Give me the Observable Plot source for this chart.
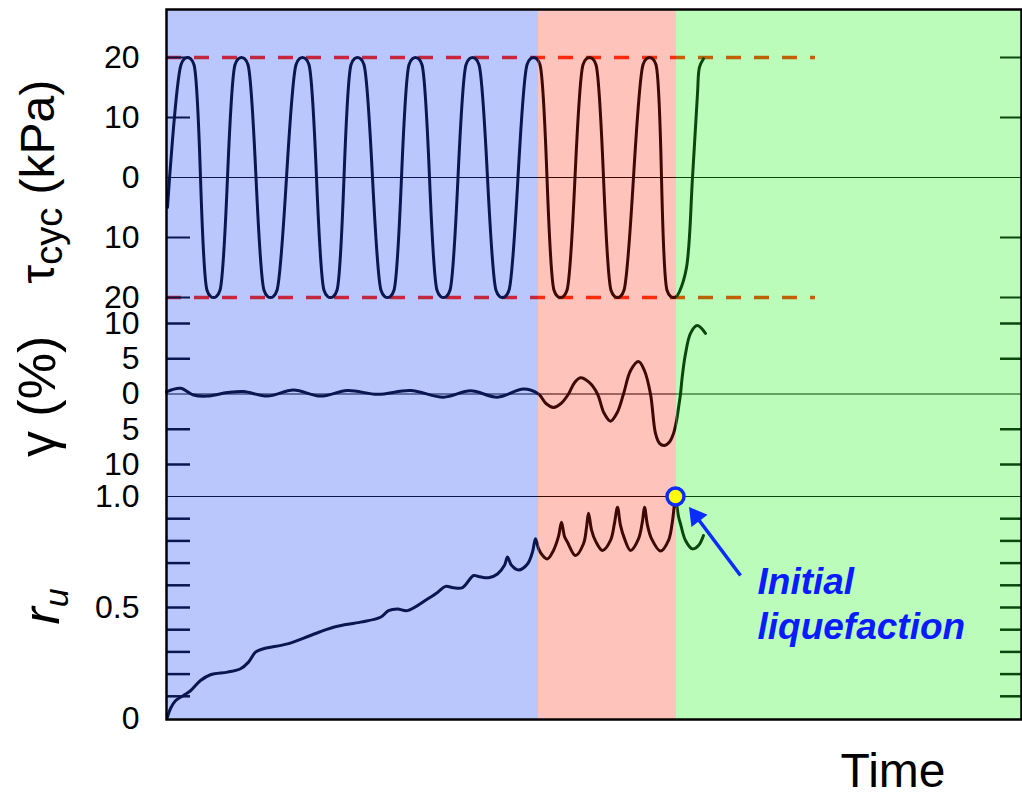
<!DOCTYPE html>
<html><head><meta charset="utf-8">
<script src="https://cdn.jsdelivr.net/npm/d3@7"></script>
<script src="https://cdn.jsdelivr.net/npm/@observablehq/plot@0.6"></script>
<style>
html,body{margin:0;padding:0;background:#fff;}
#chart{position:relative;width:1022px;height:796px;overflow:hidden;background:#fff;}
#chart svg{position:absolute;left:0;top:0;}
</style></head><body><div id="chart"></div>
<script>
// ---- regions (time units) ----
const regionNames = ["pre", "build-up", "post"];
const regionStart = [0, 37.2, 51.0];
const regionEnd = [37.2, 51.0, 85.5];
const regionFill = ["#b9c7fd", "#fec3ba", "#bbfcbb"];
const curveColor = ["#08174f", "#3d0905", "#0a470c"];
const dashColor = ["#c3283d", "#ff2c0c", "#bd6200"];
const tickLeftColor = "#08174f";
const tickRightColor = "#0a470c";

// ---- tau_cyc (kPa) vs time ----
const tauSeries = [
  [0.1,-5],
  [1.45,18.8],[1.8,19.8],[2.1,20],[2.4,19.8],[2.75,18.8],
  [4.05,-18.8],[4.4,-19.8],[4.7,-20],[5.0,-19.8],[5.35,-18.8],
  [6.85,18.8],[7.2,19.8],[7.5,20],[7.8,19.8],[8.15,18.8],
  [9.75,-18.8],[10.1,-19.8],[10.4,-20],[10.7,-19.8],[11.05,-18.8],
  [12.95,18.8],[13.3,19.8],[13.6,20],[13.9,19.8],[14.25,18.8],
  [15.75,-18.8],[16.1,-19.8],[16.4,-20],[16.7,-19.8],[17.05,-18.8],
  [18.45,18.8],[18.8,19.8],[19.1,20],[19.4,19.8],[19.75,18.8],
  [21.45,-18.8],[21.8,-19.8],[22.1,-20],[22.4,-19.8],[22.75,-18.8],
  [24.25,18.8],[24.6,19.8],[24.9,20],[25.2,19.8],[25.55,18.8],
  [27.05,-18.8],[27.4,-19.8],[27.7,-20],[28.0,-19.8],[28.35,-18.8],
  [29.95,18.8],[30.3,19.8],[30.6,20],[30.9,19.8],[31.25,18.8],
  [32.95,-18.8],[33.3,-19.8],[33.6,-20],[33.9,-19.8],[34.25,-18.8],
  [36.05,18.8],[36.4,19.8],[36.7,20],[37.0,19.8],[37.35,18.8],
  [38.75,-18.8],[39.1,-19.8],[39.4,-20],[39.7,-19.8],[40.05,-18.8],
  [41.65,18.8],[42.0,19.8],[42.3,20],[42.6,19.8],[42.95,18.8],
  [44.45,-18.8],[44.8,-19.8],[45.1,-20],[45.4,-19.8],[45.75,-18.8],
  [47.65,18.8],[48.0,19.8],[48.3,20],[48.6,19.8],[48.95,18.8],
  [50.05,-18.8],[50.4,-19.8],[50.7,-20],[51.0,-19.8],[51.3,-19.0],
  [52.0,-15],[52.6,0],[53.1,14],[53.3,18.4],[53.7,19.8]
];
const tauLabelTicks = [20, 10, 0, -10, -20];
const tauMinorTicks = [20, 10, -10, -20];
const dashLevels = [20, -20];
const dashStart = 0;
const dashEnd = 64.9;

// ---- gamma (%) vs time ----
const gammaSeries = [
  [0.0,0.3],[1.4,0.8],[2.7,-0.15],[4.1,-0.3],[6.1,0.2],[7.7,0.35],[10.1,-0.3],
  [12.7,0.55],[15.4,-0.3],[18.1,0.5],[21.1,-0.05],[24.4,0.5],[27.7,-0.45],
  [30.4,0.45],[33.1,-0.45],[35.7,0.7],[37.2,0.0],
  [37.95,-1.35],[38.7,-1.9],[39.45,-1.35],[40.2,0],
  [40.8,1.6],[41.4,2.3],[42.3,1.6],[43.1,0],
  [43.75,-2.7],[44.4,-3.85],[45.05,-2.7],[45.7,0],
  [46.4,3.3],[47.2,4.6],[47.8,3.3],[48.4,0],
  [48.9,-5.6],[49.3,-7.0],[49.8,-7.3],[50.3,-6.8],[50.7,-5.6],[51.0,-3.8],[51.25,-1.5],[51.4,0],
  [51.57,2.4],[51.9,5.7],[52.4,8.6],[53.07,9.7],[53.9,8.6]
];
const gammaLabelTicks = [10, 5, 0, -5, -10];
const gammaMinorTicks = [10, 5, -5, -10];

// ---- r_u vs time ----
const ruSeries = [
  [0.1,0.006],[0.4,0.045],[0.9,0.08],[1.7,0.104],[2.4,0.125],[3.4,0.171],[4.4,0.197],[6.1,0.209],
  [7.4,0.224],[8.2,0.254],[8.9,0.299],[9.7,0.314],[12.1,0.336],[14.4,0.374],[16.7,0.411],
  [19.4,0.434],[21.4,0.456],[22.2,0.486],[23.1,0.493],[24.1,0.486],[26.1,0.538],[27.1,0.568],
  [27.9,0.595],[28.7,0.589],[29.6,0.59],[30.7,0.644],[31.2,0.64],[32.2,0.634],[33.1,0.651],
  [33.8,0.69],[34.1,0.727],[34.5,0.69],[35.2,0.669],[36.1,0.696],[36.6,0.75],[36.9,0.81],
  [37.2,0.765],[37.6,0.735],[38.1,0.719],[38.7,0.757],[39.2,0.82],[39.5,0.884],[39.8,0.82],
  [40.1,0.794],[40.9,0.734],[41.7,0.787],[42.0,0.86],[42.2,0.925],[42.5,0.85],[42.9,0.80],
  [43.6,0.757],[44.4,0.802],[44.8,0.88],[45.1,0.952],[45.4,0.87],[45.8,0.81],[46.4,0.757],
  [47.2,0.809],[47.6,0.89],[47.8,0.952],[48.1,0.87],[48.5,0.81],[49.4,0.754],[50.2,0.802],
  [50.6,0.89],[50.9,0.99],[51.2,0.91],[51.4,0.877],[51.9,0.802],[52.6,0.764],[53.2,0.779],[53.7,0.824]
];
const ruLabelTicks = [1.0, 0.5, 0];
const ruLabelText = ["1.0", "0.5", "0"];
const ruMinorTicks = [0.9, 0.8, 0.7, 0.6, 0.5, 0.4, 0.3, 0.2, 0.1];

// ---- annotation ----
const liqPoint = [50.9, 1.0];
const arrowTail = [57.4, 0.644];
const arrowHead = [52.95, 0.911];
const annotPos = [59.1, 0.36];
const annotText = "Initial\nliquefaction";

// ---- layout ----
const W = 1022, H = 796;
const font = "'Liberation Sans', Arial, Helvetica, sans-serif";
const ns = "http://www.w3.org/2000/svg";
const idx = regionNames.map((_, i) => i);
const common = {
  width: W, height: H, marginTop: 9, marginBottom: 77, marginLeft: 166, marginRight: 1,
  x: {domain: [0, 85.5], axis: null},
  style: {background: "transparent", overflow: "visible"}
};
const tag = i => "region-" + i;

function zeroRules(level) {
  return idx.map(i => Plot.ruleY([level], {stroke: curveColor[i], strokeWidth: 1.2, ariaDescription: tag(i)}));
}
function curves(series) {
  return idx.map(i => Plot.line(series, {x: d => d[0], y: d => d[1], curve: "catmull-rom", stroke: curveColor[i], strokeWidth: 3, ariaDescription: tag(i)}));
}
function sideTicks(values, w) {
  return [
    Plot.tickY(values, {y: d => d, insetRight: 855 - 24, stroke: tickLeftColor, strokeWidth: w}),
    Plot.tickY(values, {y: d => d, insetLeft: 855 - 21, stroke: tickRightColor, strokeWidth: w})
  ];
}
function labels(values, fmt) {
  return Plot.text(values, {y: d => d, text: fmt, frameAnchor: "left", dx: -27, textAnchor: "end", fontSize: 32, fontFamily: font, fill: "#000"});
}
function title(value, text, size, dx, key) {
  return Plot.text([value], {y: d => d, text: () => text, frameAnchor: "left", textAnchor: "middle", dx, rotate: -90, fontSize: size, fontFamily: font, fill: "#000", ariaDescription: key});
}

const tauPlot = Plot.plot({
  ...common,
  y: {domain: [-20, 20], range: [297, 57], axis: null},
  marks: [
    Plot.rect(idx, {x1: i => regionStart[i], x2: i => regionEnd[i], fill: i => regionFill[i]}),
    ...zeroRules(0),
    ...idx.map(i => Plot.ruleY(dashLevels, {x1: dashStart, x2: dashEnd, stroke: dashColor[i], strokeWidth: 3.5, strokeDasharray: "15,13", ariaDescription: tag(i)})),
    ...curves(tauSeries),
    ...sideTicks(tauMinorTicks, 2),
    labels(tauLabelTicks, d => String(Math.abs(d))),
    title(-0.7, "τcyc (kPa)", 48, -128, "tau-title")
  ]
});

const gammaPlot = Plot.plot({
  ...common,
  y: {domain: [-10, 10], range: [464, 323], axis: null},
  marks: [
    ...zeroRules(0),
    ...curves(gammaSeries),
    ...sideTicks(gammaMinorTicks, 2.5),
    labels(gammaLabelTicks, d => String(Math.abs(d))),
    title(-0.35, "γ (%)", 52, -128, "gamma-title")
  ]
});

const ruPlot = Plot.plot({
  ...common,
  y: {domain: [0, 1], range: [718, 496], axis: null},
  marks: [
    ...zeroRules(1),
    ...curves(ruSeries),
    ...sideTicks(ruMinorTicks, 2.5),
    Plot.text(ruLabelTicks, {y: d => d, text: (d, i) => ruLabelText[i], frameAnchor: "left", dx: -27, textAnchor: "end", fontSize: 32, fontFamily: font, fill: "#000"}),
    title(0.505, "ru", 52, -124, "ru-title"),
    Plot.link([0], {x1: () => arrowTail[0], y1: () => arrowTail[1], x2: () => arrowHead[0], y2: () => arrowHead[1], stroke: "#0a2cff", strokeWidth: 3.5}),
    Plot.dot([0], {x: () => arrowHead[0], y: () => arrowHead[1], symbol: "triangle", r: 7.5, fill: "#0a2cff", stroke: "none", rotate: -37}),
    Plot.dot([liqPoint], {x: d => d[0], y: d => d[1], r: 8.5, fill: "#ffff00", stroke: "#0a2cff", strokeWidth: 3.5}),
    Plot.text([annotPos], {x: d => d[0], y: d => d[1], text: () => annotText, textAnchor: "start", lineAnchor: "bottom", lineHeight: 1.2, fontSize: 37, fontWeight: "bold", fontStyle: "italic", fontFamily: font, fill: "#0a1cff"}),
    Plot.text([0], {frameAnchor: "bottom-right", text: () => "Time", dx: -76, dy: 67, textAnchor: "end", lineAnchor: "bottom", fontSize: 48, fontFamily: font, fill: "#000"}),
    Plot.frame({stroke: "#000", strokeWidth: 2.5})
  ]
});

const chart = document.getElementById("chart");
[tauPlot, gammaPlot, ruPlot].forEach(p => chart.appendChild(p));

// split region-coloured marks at the region boundaries
function clipRegions(svg, panel) {
  const xs = svg.scale("x");
  const defs = document.createElementNS(ns, "defs");
  idx.forEach(i => {
    const cp = document.createElementNS(ns, "clipPath");
    cp.setAttribute("id", `clip-${panel}-${i}`);
    const r = document.createElementNS(ns, "rect");
    const x0 = i === 0 ? 0 : xs.apply(regionStart[i]);
    const x1 = i === idx.length - 1 ? W : xs.apply(regionEnd[i]);
    r.setAttribute("x", x0); r.setAttribute("y", 0);
    r.setAttribute("width", x1 - x0); r.setAttribute("height", H);
    cp.appendChild(r); defs.appendChild(cp);
  });
  svg.insertBefore(defs, svg.firstChild);
  idx.forEach(i => svg.querySelectorAll(`[aria-description="${tag(i)}"]`).forEach(g => g.setAttribute("clip-path", `url(#clip-${panel}-${i})`)));
}
clipRegions(tauPlot, "tau");
clipRegions(gammaPlot, "gamma");
clipRegions(ruPlot, "ru");

function richText(svg, key, parts) {
  const t = svg.querySelector(`[aria-description="${key}"] text`);
  if (!t) return;
  t.textContent = "";
  parts.forEach(p => {
    const ts = document.createElementNS(ns, "tspan");
    ts.textContent = p.text;
    if (p.size) ts.setAttribute("font-size", p.size);
    if (p.dy) ts.setAttribute("dy", p.dy);
    if (p.italic) ts.setAttribute("font-style", "italic");
    t.appendChild(ts);
  });
}
richText(tauPlot, "tau-title", [{text: "τ"}, {text: "cyc", size: 38, dy: 8}, {text: " (kPa)", dy: -8}]);
richText(ruPlot, "ru-title", [{text: "r", italic: true}, {text: "u", size: 34, dy: 9, italic: true}]);
</script></body></html>
